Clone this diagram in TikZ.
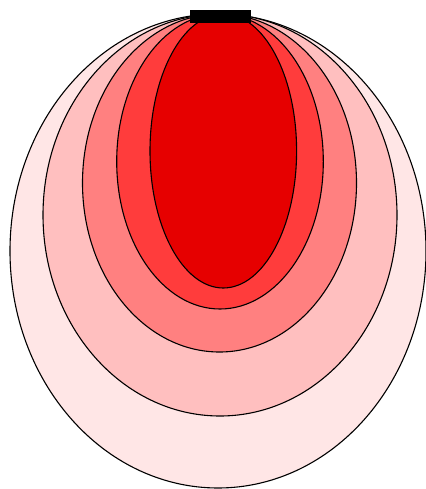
\documentclass[tikz,border=0pt]{standalone}
\begin{document}
\begin{tikzpicture}[x=1pt,y=-1pt,
  zone/.style={draw=black,line width=1.1pt}]
\useasboundingbox (0,0) rectangle (425,489);
\definecolor{zA}{HTML}{FFE6E6}
\definecolor{zB}{HTML}{FFBFBF}
\definecolor{zC}{HTML}{FF8080}
\definecolor{zD}{HTML}{FF3C3C}
\definecolor{zE}{HTML}{E60000}
\path[zone,fill=zA] (218,251) ellipse [x radius=208,y radius=237];
\path[zone,fill=zB] (220,215) ellipse [x radius=177,y radius=201];
\path[zone,fill=zC] (219.5,183) ellipse [x radius=137,y radius=169];
\path[zone,fill=zD] (220,161.5) ellipse [x radius=103.3,y radius=147.5];
\path[zone,fill=zE] (223.3,151) ellipse [x radius=73.3,y radius=137];
\fill[black] (190,10) rectangle (250.7,23);
\end{tikzpicture}
\end{document}
